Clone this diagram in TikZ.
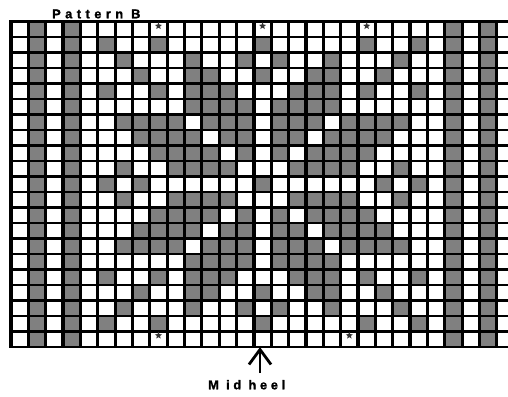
\documentclass[tikz,border=0pt]{standalone}
\usepackage{fontspec}
\usetikzlibrary{shapes.geometric}
\newfontfamily\titlefont{Liberation Sans}[LetterSpace=35,BoldFont={Liberation Sans Bold},BoldFeatures={FakeBold=1.2}]
\newfontfamily\heelfont{Liberation Sans}[LetterSpace=29,BoldFont={Liberation Sans Bold},BoldFeatures={FakeBold=1.2}]
\definecolor{cellgray}{HTML}{808080}
\begin{document}
\begin{tikzpicture}[x=1pt,y=-1pt]
\useasboundingbox (0,0) rectangle (508,396);
\fill[white] (0,0) rectangle (508,396);
\def\xl{11}\def\cw{17.35}\def\yt{21.5}\def\rh{15.5}
\tikzset{
  gridline/.style={line width=3.2pt,black},
  hgridline/.style={line width=2.8pt,black},
  cellfill/.style={fill=cellgray},
  starmark/.style={star,star points=5,star point ratio=2.3,fill=black!80,draw=none,inner sep=0pt,minimum size=7.5pt},
  lbl/.style={inner sep=0pt},
  arrowline/.style={line width=2.8pt,black}
}
% border columns
\foreach \c in {1,3,25,27}
  \fill[cellfill] ({\xl+\c*\cw},\yt) rectangle ({\xl+(\c+1)*\cw},{\yt+21*\rh});
% pattern cells (rows 0..10, mirrored to rows 20..10)
\foreach \r/\cs in {1/{5,8,14,20,23},2/{6,10,13,15,18,22},3/{7,10,11,14,17,18,21},4/{5,8,10,11,12,16,17,18,20,23},5/{10,11,12,13,15,16,17,18},6/{6,7,8,9,11,12,13,15,16,17,19,20,21,22},7/{7,8,9,10,12,13,15,16,18,19,20,21},8/{8,9,10,11,13,15,17,18,19,20},9/{6,9,10,11,12,16,17,18,19,22},10/{5,7,14,21,23}}{
  \foreach \c in \cs {
    \fill[cellfill] ({\xl+\c*\cw},{\yt+\r*\rh}) rectangle ++(\cw,\rh);
    \fill[cellfill] ({\xl+\c*\cw},{\yt+(20-\r)*\rh}) rectangle ++(\cw,\rh);
  }
}
% grid lines
\foreach \k in {0,...,28}
  \draw[gridline] ({\xl+\k*\cw},{\yt-1.4}) -- ({\xl+\k*\cw},{\yt+21*\rh+1.4});
\foreach \j in {0,...,21}
  \draw[hgridline] ({\xl-1.6},{\yt+\j*\rh}) -- (508,{\yt+\j*\rh});
% stars
\node[starmark] (s1) at ({\xl+8.5*\cw},26) {};
\node[starmark] (s2) at ({\xl+14.5*\cw},26) {};
\node[starmark] (s3) at ({\xl+20.5*\cw},26) {};
\node[starmark] (s4) at ({\xl+8.5*\cw},335.5) {};
\node[starmark] (s5) at ({\xl+19.5*\cw},335.5) {};
% labels
\node[lbl,font=\titlefont\bfseries\fontsize{12.8}{14}\selectfont,anchor=base west] (title) at (52,18.3) {Pattern B};
\node[lbl,font=\heelfont\bfseries\fontsize{12.8}{14}\selectfont,anchor=base west] (midheel) at (208,389.3) {M id heel};
% arrow
\coordinate (tip) at (260,349.5);
\coordinate (stemend) at (260,373);
\draw[arrowline] (stemend) -- (tip);
\draw[arrowline,line join=miter] ([shift={(-11,15)}]tip) -- (tip) -- ([shift={(11,15)}]tip);
\end{tikzpicture}
\end{document}
